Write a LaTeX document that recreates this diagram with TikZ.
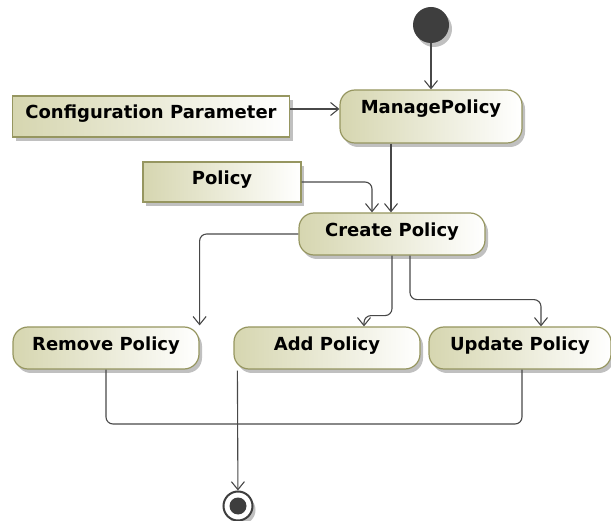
\documentclass[tikz,border=0pt]{standalone}
\usepackage{fontspec}
\setmainfont{DejaVu Sans}
\usepackage{xcolor}
\usepackage{tikz}
\usetikzlibrary{arrows.meta,shadows}

\definecolor{actfill}{RGB}{214,214,176}
\definecolor{actdraw}{RGB}{150,150,96}
\definecolor{edgegray}{RGB}{72,72,72}
\definecolor{dotfill}{RGB}{62,62,62}

\begin{document}
\begin{tikzpicture}[
    x=1pt, y=-1pt,
    font=\fontsize{18}{21}\selectfont\bfseries,
    shade/.style={drop shadow={shadow xshift=3pt, shadow yshift=-4pt, fill=black!45, opacity=0.55}},
    action/.style={rectangle, rounded corners=15pt, draw=actdraw, line width=1.2pt, left color=actfill, right color=white, shade, inner sep=0pt, minimum height=42pt, text height=13pt, text depth=8.5pt},
    object/.style={rectangle, draw=actdraw, line width=1.2pt, left color=actfill, right color=white, shade, inner sep=0pt, minimum height=41pt, text height=13pt, text depth=8.5pt},
    line/.style={draw=edgegray, line width=1.1pt, -{Straight Barb[length=8pt, width=13pt]}, rounded corners=7pt}
]
\useasboundingbox (0,0) rectangle (611,521);

\node [circle, fill=dotfill, minimum size=36pt, inner sep=0pt, shade] (start) at (431,25) {};
\node [action, minimum width=182pt, minimum height=53pt, text depth=19pt] (manage) at (431,116.5) {ManagePolicy};
\node [object, minimum width=277pt] (config) at (151,116.5) {Configuration Parameter};
\node [object, minimum width=158pt, minimum height=40pt] (policy) at (222,182) {Policy};
\node [action, minimum width=186pt] (create) at (392,234) {Create Policy};
\node [action, minimum width=186pt] (remove) at (106,348) {Remove Policy};
\node [action, minimum width=186pt] (add) at (327,348) {Add Policy};
\node [action, minimum width=182pt] (update) at (520,348) {Update Policy};
\node [circle, draw=dotfill, line width=2pt, fill=white, minimum size=29pt, inner sep=0pt, shade] (end) at (238,506) {};
\fill [dotfill] (end.center) circle (8.5pt);
\coordinate (merge) at (238,424);

\path [line] (start) -- (manage.north);
\path [line] ([yshift=7.5pt]config.east) -- ([yshift=7.5pt]config.east -| manage.west);
\path [line] ([xshift=-40pt]manage.south) -- ([xshift=-40pt]manage.south |- create.north);
\path [line] (policy.east) -| ([xshift=-20pt]create.north);

\path [line] (create.west) -| ([yshift=1pt]remove.north east);
\path [line] (create.south) -- ([yshift=-60pt]create.south) -| ([xshift=37pt]add.north);
\path [line] ([xshift=18pt]create.south) -- ([xshift=18pt,yshift=-44pt]create.south) -| ([xshift=21pt]update.north);

\draw [edgegray, line width=1.1pt, rounded corners=7pt] (remove.south) |- (merge) -| ([xshift=2pt]update.south);
\path [line] ([xshift=4pt,yshift=-1pt]add.south west) -- (end);

\end{tikzpicture}
\end{document}
